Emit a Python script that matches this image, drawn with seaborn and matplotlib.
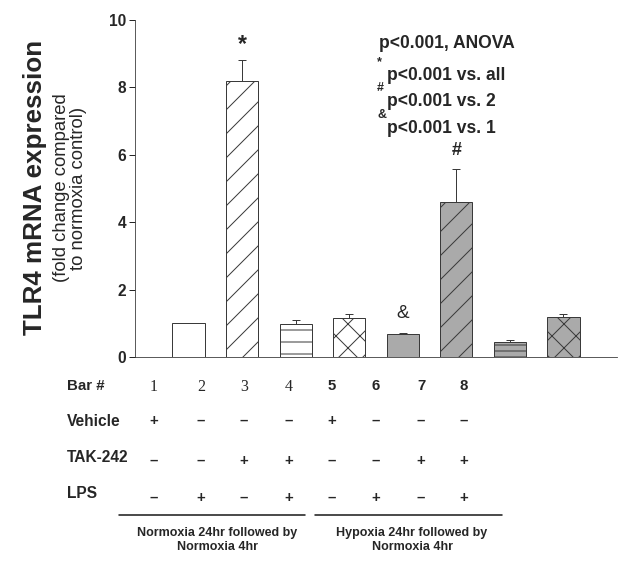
import numpy as np
import matplotlib
matplotlib.use('Agg')
import matplotlib.pyplot as plt
import seaborn as sns

# data
bar_ids = ['1', '2', '3', '4', '5', '6', '7', '8']
tlr4_fold = [1.0, 8.2, 0.98, 1.15, 0.67, 4.6, 0.45, 1.18]
tlr4_sem = [0.0, 0.6, 0.12, 0.12, 0.05, 0.98, 0.05, 0.1]
vehicle = ['+', '–', '–', '–', '+', '–', '–', '–']
tak242 = ['–', '–', '+', '+', '–', '–', '+', '+']
lps = ['–', '+', '–', '+', '–', '+', '–', '+']
group_labels = ['Normoxia 24hr followed by\nNormoxia 4hr',
                'Hypoxia 24hr followed by\nNormoxia 4hr']

W, H = 633, 578
DPI = 72

def fx(px):
    return px / W

def fy(py):
    return 1 - py / H

sns.set_style('ticks')
plt.rcParams['font.family'] = ['Liberation Sans', 'DejaVu Sans']
plt.rcParams['hatch.linewidth'] = 1.0

fig = plt.figure(figsize=(W / DPI, H / DPI), dpi=DPI)
ax = fig.add_axes([fx(135), fy(357), fx(617) - fx(135), fy(20) - fy(357)])

colors = ['white'] * 4 + ['#aaaaaa'] * 4
hatches = ['', '/', '-', 'x', '', '/', '--', 'x']
sns.barplot(x=bar_ids, y=tlr4_fold, hue=bar_ids, palette=colors, legend=False,
            width=0.6, edgecolor='#3a3a3a', linewidth=1.0, ax=ax)
for patch, h in zip(ax.patches, hatches):
    patch.set_hatch(h)

xs = np.arange(len(bar_ids))
ax.errorbar(xs, tlr4_fold, yerr=[np.zeros(len(xs)), tlr4_sem], fmt='none',
            ecolor='#3a3a3a', elinewidth=1.0, capsize=4, capthick=1.0)

ax.set_xlim(-1, 8)
ax.set_ylim(0, 10)
ax.set_yticks([0, 2, 4, 6, 8, 10])
ax.set_xticks([])
ax.set_xlabel('')
ax.tick_params(axis='y', direction='out', length=6, width=1, pad=3, labelsize=15.5)
for lbl in ax.get_yticklabels():
    lbl.set_fontweight('bold')
sns.despine(ax=ax)
ax.spines['left'].set_color('#333333')
ax.spines['bottom'].set_color('#333333')

# significance marks above bars
ax.text(1, 9.26, '*', ha='center', va='center', fontsize=23, fontweight='bold')
ax.text(5, 6.14, '#', ha='center', va='center', fontsize=18, fontweight='bold')
ax.text(4, 1.3, '&', ha='center', va='center', fontsize=19)

# y axis labels
fig.text(fx(35), fy(187), 'TLR4 mRNA expression', rotation=90, ha='center',
         va='center', fontsize=26, fontweight='bold')
fig.text(fx(70), fy(188), '(fold change compared\nto normoxia control)', rotation=90,
         ha='center', va='center', fontsize=18.5, linespacing=1.0)

# stats legend
fig.text(fx(379), fy(43), 'p<0.001, ANOVA', ha='left', va='center', fontsize=17.5, fontweight='bold')
for sym, txt, ys, yt in [('*', 'p<0.001 vs. all', 62, 75),
                         ('#', 'p<0.001 vs. 2', 88, 101),
                         ('&', 'p<0.001 vs. 1', 115, 128)]:
    fig.text(fx(377), fy(ys), sym, ha='left', va='center', fontsize=12.5, fontweight='bold')
    fig.text(fx(387), fy(yt), txt, ha='left', va='center', fontsize=17.5, fontweight='bold')

# treatment table
col_x = [154, 201, 244, 289, 332, 376, 421, 464]
fig.text(fx(67), fy(386), 'Bar #', ha='left', va='center', fontsize=15, fontweight='bold')
for i, (cx, b) in enumerate(zip(col_x, bar_ids)):
    if i < 4:
        fig.text(fx(cx), fy(387), b, ha='center', va='center', fontsize=16,
                 family=['Liberation Serif', 'DejaVu Serif'])
    else:
        fig.text(fx(cx), fy(386), b, ha='center', va='center', fontsize=15, fontweight='bold')

rows = [('Vehicle', vehicle, 421, 421), ('TAK-242', tak242, 458, 461), ('LPS', lps, 494, 498)]
for name, signs, yl, ysym in rows:
    fig.text(fx(67), fy(yl), name, ha='left', va='center', fontsize=15.5, fontweight='bold')
    for cx, s in zip(col_x, signs):
        fig.text(fx(cx), fy(ysym), s, ha='center', va='center', fontsize=15, fontweight='bold')

for x0, x1 in [(119, 305), (315, 502)]:
    fig.add_artist(plt.Line2D([fx(x0), fx(x1)], [fy(515), fy(515)], color='#222222', lw=1.6))

for cx, lbl in zip([217, 412], group_labels):
    fig.text(fx(cx), fy(540), lbl, ha='center', va='center', fontsize=12.5,
             fontweight='bold', linespacing=1.25)

fig.savefig('out.png', dpi=DPI)
